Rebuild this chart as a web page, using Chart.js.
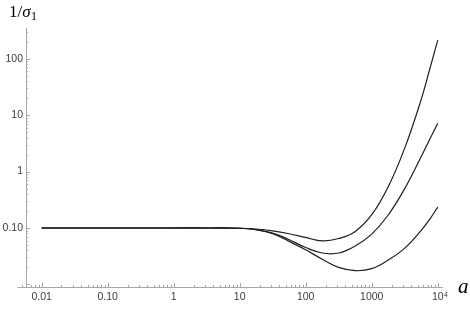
<!DOCTYPE html>
<html>
<head>
<meta charset="utf-8">
<script src="https://cdn.jsdelivr.net/npm/chart.js@4.4.0/dist/chart.umd.min.js"></script>
<style>
  html, body { margin: 0; padding: 0; background: #fff; }
  #wrap { width: 470px; height: 309px; }
</style>
</head>
<body>
<div id="wrap"><canvas id="chart" width="470" height="309"></canvas></div>
<script>
// ===================================================
// DATOS (escala log-log)
// ===================================================

const aValues = [0.01, 0.1, 1, 3.16, 10, 17.8, 31.6, 56.2, 100, 178, 316, 562, 1000, 1778, 3162, 5623, 7499, 10000];
const curveTop    = [0.1, 0.1, 0.1, 0.1, 0.099, 0.096, 0.089, 0.079, 0.068, 0.059, 0.065, 0.087, 0.172, 0.54, 2.6, 19, 63, 214];
const curveMiddle = [0.1, 0.1, 0.1, 0.1, 0.099, 0.093, 0.081, 0.062, 0.045, 0.036, 0.036, 0.048, 0.078, 0.17, 0.50, 1.85, 3.66, 7.2];
const curveBottom = [0.1, 0.1, 0.1, 0.1, 0.099, 0.093, 0.079, 0.058, 0.041, 0.028, 0.020, 0.0175, 0.019, 0.027, 0.044, 0.091, 0.141, 0.234];

const xTickValues = [0.01, 0.1, 1, 10, 100, 1000, 10000];
const xTickLabels = ['0.01', '0.10', '1', '10', '100', '1000', '10'];
const xTickExps   = ['', '', '', '', '', '', '4'];
const yTickValues = [0.1, 1, 10, 100];
const yTickLabels = ['0.10', '1', '10', '100'];

// rango de los ejes
const xMin = 0.0058, xMax = 11600, xAxisFrom = 0.0043;
const yMin = 0.009, yMax = 350;

const axisColor = '#a8a8a8';
const labelColor = '#3c3c3c';
const lineColor = '#1e1e1e';
const fontFamily = '"Liberation Sans", Arial, sans-serif';

// ===================================================
// UTILITARIAS
// ===================================================

function indexFor(v, vals) {
    for (let i = 0; i < vals.length; i++) {
        if (Math.abs(Math.log10(v) - Math.log10(vals[i])) < 1e-6) return i;
    }
    return -1;
}

function significand(v) {
    const e = Math.floor(Math.log10(v) + 1e-9);
    return v / Math.pow(10, e);
}

function isIntSig(v) {
    const s = significand(v);
    return Math.abs(s - Math.round(s)) < 1e-6;
}

// ticks hacia adentro, estilo Mathematica
const mmaAxes = {
    id: 'mmaAxes',
    afterDraw(chart) {
        const { ctx, chartArea, scales: { x, y } } = chart;
        const bottom = chartArea.bottom, left = chartArea.left;
        ctx.save();
        ctx.strokeStyle = axisColor;
        ctx.lineWidth = 1;

        // extension del eje x a la izquierda del eje y
        const xStart = x.getPixelForValue(xAxisFrom);
        ctx.beginPath();
        ctx.moveTo(xStart, bottom + 0.5);
        ctx.lineTo(left, bottom + 0.5);
        ctx.stroke();

        const xTicks = x.ticks.map(t => t.value);
        for (let k = 1; k <= 9; k++) {
            const v = k * 0.001;
            if (v >= xAxisFrom && v < xMin) xTicks.push(v);
        }
        xTicks.forEach(v => {
            if (!isIntSig(v)) return;
            const p = Math.round(x.getPixelForValue(v)) + 0.5;
            const major = Math.abs(significand(v) - 1) < 1e-6;
            ctx.beginPath();
            ctx.moveTo(p, bottom);
            ctx.lineTo(p, bottom - (major ? 4 : 2));
            ctx.stroke();
        });

        y.ticks.forEach(t => {
            if (!isIntSig(t.value)) return;
            const p = Math.round(y.getPixelForValue(t.value)) + 0.5;
            const major = Math.abs(significand(t.value) - 1) < 1e-6;
            ctx.beginPath();
            ctx.moveTo(left, p);
            ctx.lineTo(left + (major ? 4 : 2), p);
            ctx.stroke();
        });

        // exponentes de las etiquetas del eje x (10^4)
        ctx.fillStyle = labelColor;
        xTickValues.forEach((v, i) => {
            if (!xTickExps[i]) return;
            ctx.font = '10.5px ' + fontFamily;
            const w = ctx.measureText(xTickLabels[i]).width;
            const p = x.getPixelForValue(v);
            ctx.font = '7px ' + fontFamily;
            ctx.textAlign = 'left';
            ctx.textBaseline = 'alphabetic';
            ctx.fillText(xTickExps[i], p + w / 2 + 0.5, bottom + 10);
        });

        // etiqueta del eje y: 1/σ1
        ctx.fillStyle = '#000';
        ctx.textAlign = 'left';
        ctx.textBaseline = 'alphabetic';
        ctx.font = '17px "Liberation Serif"';
        let cx = 9;
        ctx.fillText('1/', cx, 17);
        cx += ctx.measureText('1/').width;
        ctx.font = 'italic 17px "Liberation Serif"';
        ctx.fillText('\u03c3', cx, 17);
        cx += ctx.measureText('\u03c3').width + 0.5;
        ctx.font = '12px "Liberation Serif"';
        ctx.fillText('1', cx, 20);

        // etiqueta del eje x: a
        ctx.font = 'italic 21px "Liberation Serif"';
        ctx.fillText('a', chartArea.right + 16, bottom + 6);
        ctx.restore();
    }
};

// ===================================================
// GRAFICO
// ===================================================

function makeSet(values) {
    return {
        data: aValues.map((a, i) => ({ x: a, y: values[i] })),
        borderColor: lineColor,
        borderWidth: 1.2,
        pointRadius: 0,
        fill: false,
        tension: 0.4
    };
}

const tickFont = { family: fontFamily, size: 10.5 };

new Chart(document.getElementById('chart'), {
    type: 'line',
    data: { datasets: [makeSet(curveTop), makeSet(curveMiddle), makeSet(curveBottom)] },
    options: {
        responsive: false,
        animation: false,
        layout: { padding: { top: 28, right: 28, left: 0, bottom: 0 } },
        plugins: { legend: { display: false }, tooltip: { enabled: false } },
        scales: {
            x: {
                type: 'logarithmic',
                min: xMin,
                max: xMax,
                afterFit: s => { s.height = 22; },
                grid: { drawOnChartArea: false, drawTicks: false },
                border: { color: axisColor, width: 1 },
                ticks: {
                    autoSkip: false, maxRotation: 0, minRotation: 0, padding: 4,
                    font: tickFont, color: labelColor,
                    callback: v => { const i = indexFor(v, xTickValues); return i < 0 ? '' : xTickLabels[i]; }
                }
            },
            y: {
                type: 'logarithmic',
                min: yMin,
                max: yMax,
                afterFit: s => { s.width = 26; },
                grid: { drawOnChartArea: false, drawTicks: false },
                border: { color: axisColor, width: 1 },
                ticks: {
                    autoSkip: false, padding: 3,
                    font: tickFont, color: labelColor,
                    callback: v => { const i = indexFor(v, yTickValues); return i < 0 ? '' : yTickLabels[i]; }
                }
            }
        }
    },
    plugins: [mmaAxes]
});
</script>
</body>
</html>
